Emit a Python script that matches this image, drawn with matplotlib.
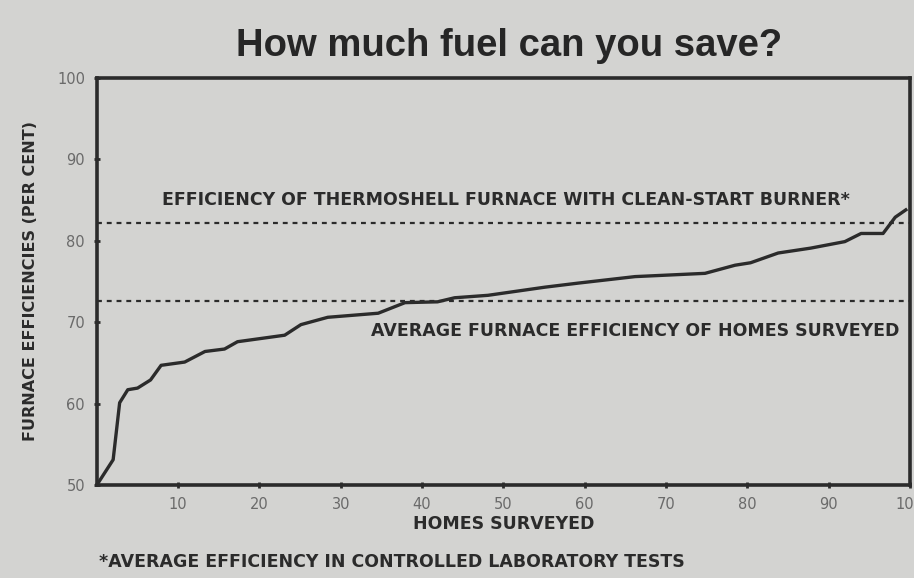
import numpy as np
import matplotlib.pyplot as plt

# homes surveyed (sorted) vs furnace efficiency
homes = [0, 2.0, 2.8, 3.8, 5.0, 6.6, 7.9, 10.8, 13.3, 15.7, 17.3, 23.1, 25.1, 28.4,
         34.6, 37.9, 41.9, 44.0, 48.1, 50.9, 55.1, 59.2, 66.2, 74.8, 78.5, 80.4,
         83.8, 87.8, 92.0, 94.0, 96.7, 98.2, 99.5]
eff = [50.0, 53.1, 60.1, 61.7, 61.9, 62.9, 64.7, 65.1, 66.4, 66.7, 67.6, 68.4, 69.7, 70.6,
       71.1, 72.4, 72.5, 73.0, 73.3, 73.7, 74.3, 74.8, 75.6, 76.0, 77.0, 77.3,
       78.5, 79.1, 79.9, 80.9, 80.9, 82.9, 83.8]

thermoshell = 82.2   # lab efficiency of Thermoshell furnace
survey_avg = 72.6    # average of homes surveyed

xticks = [10, 20, 30, 40, 50, 60, 70, 80, 90, 100]
yticks = [50, 60, 70, 80, 90, 100]

bg = '#d3d3d1'
ink = '#2b2b2b'
cond = ['DejaVu Sans']

fig = plt.figure(figsize=(9.14, 5.78), dpi=100, facecolor=bg)
ax = fig.add_axes([0.106, 0.161, 0.8895, 0.704], facecolor=bg)

ax.plot(homes, eff, color=ink, lw=2.4, solid_joinstyle='round')
ax.axhline(thermoshell, color=ink, lw=1.6, ls=(0, (2.2, 2.2)))
ax.axhline(survey_avg, color=ink, lw=1.6, ls=(0, (2.2, 2.2)))

ax.set_xlim(0, 100)
ax.set_ylim(50, 100)
ax.set_xticks(xticks)
ax.set_yticks(yticks)
for sp in ax.spines.values():
    sp.set_linewidth(2.6)
    sp.set_color(ink)
ax.tick_params(direction='inout', length=5, width=2, color=ink,
               labelsize=10.5, labelcolor='#6a6a6a', pad=6)

ax.text(8.0, 85.0, 'EFFICIENCY OF THERMOSHELL FURNACE WITH CLEAN-START BURNER*',
        family=cond, fontsize=12.5, color=ink, fontweight='bold', va='center')
ax.text(33.7, 68.9, 'AVERAGE FURNACE EFFICIENCY OF HOMES SURVEYED',
        family=cond, fontsize=12.5, color=ink, fontweight='bold', va='center')

ax.set_xlabel('HOMES SURVEYED', family=cond, fontsize=12.5, color=ink,
              fontweight='bold', labelpad=2)
ax.set_ylabel('FURNACE EFFICIENCIES (PER CENT)', family=cond, fontsize=11.5,
              color=ink, fontweight='bold', labelpad=14)

fig.text(0.557, 0.921, 'How much fuel can you save?', ha='center', va='center',
         fontsize=27.5, color='#262626', family='Liberation Sans', fontweight='bold')
fig.text(0.108, 0.027, '*AVERAGE EFFICIENCY IN CONTROLLED LABORATORY TESTS',
         family=cond, fontsize=12.5, color=ink, fontweight='bold', va='center')

fig.savefig('out.png', dpi=100, facecolor=bg)
